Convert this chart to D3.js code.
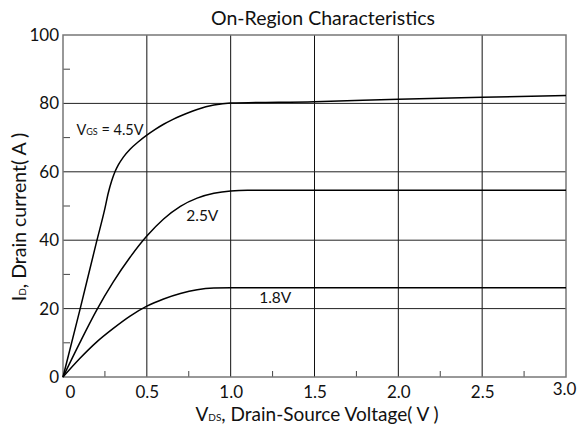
<!DOCTYPE html>
<html>
<head>
<meta charset="utf-8">
<script src="https://cdn.jsdelivr.net/npm/d3@7"></script>
<style>
  body { margin: 0; background: #fff; }
  text { font-family: Lato, "Open Sans", sans-serif; fill: #111; }
</style>
</head>
<body>
<div id="chart"></div>
<script>
// ------- Data -------
const xTicks = [0, 0.5, 1.0, 1.5, 2.0, 2.5, 3.0];
const xMinor = [0.25, 0.75, 1.25, 1.75, 2.25, 2.75];
const yTicks = [0, 20, 40, 60, 80, 100];
const yMinor = [10, 30, 50, 70, 90];

// V_DS (V), I_D (A)
const vgs45 = [
  [0, 0], [0.1, 19.5], [0.2, 39.5], [0.25, 49.3], [0.27, 53.8], [0.29, 57.3],
  [0.31, 60.0], [0.33, 62.0], [0.36, 64.3], [0.4, 66.6], [0.45, 68.8], [0.5, 70.7],
  [0.55, 72.4], [0.6, 73.9], [0.65, 75.2], [0.7, 76.3], [0.8, 78.2], [0.9, 79.5],
  [1.0, 80.1], [1.5, 80.5], [2.0, 81.2], [2.5, 81.8], [3.0, 82.3]
];
const vgs25 = [
  [0, 0], [0.1, 10], [0.2, 19.5], [0.3, 27.8], [0.4, 35.0], [0.5, 41.2],
  [0.6, 46.2], [0.7, 49.9], [0.8, 52.3], [0.9, 53.7], [1.0, 54.4], [1.1, 54.6],
  [2.0, 54.6], [3.0, 54.6]
];
const vgs18 = [
  [0, 0], [0.1, 5.4], [0.2, 10.2], [0.3, 14.2], [0.4, 17.8], [0.5, 20.7],
  [0.6, 22.8], [0.7, 24.4], [0.8, 25.5], [0.9, 26.0], [1.0, 26.1], [2.0, 26.1], [3.0, 26.1]
];
const series = [vgs45, vgs25, vgs18];

// curve labels: [V, I] where the text starts
const labelPos = [[0.08, 70.8], [0.735, 45.7], [1.17, 21.6]];
const labelText = ["4.5V", "2.5V", "1.8V"];

// ------- Chart Setup -------
const margin = { top: 35, right: 13, bottom: 53, left: 63 };
const width = 579 - margin.left - margin.right;
const height = 430 - margin.top - margin.bottom;

const root = d3.select("#chart")
  .append("svg")
  .attr("width", 579)
  .attr("height", 430);

const svg = root.append("g")
  .attr("transform", `translate(${margin.left},${margin.top})`);

const x = d3.scaleLinear().domain([0, 3]).range([0, width]);
const y = d3.scaleLinear().domain([0, 100]).range([height, 0]);

// ------- Grid -------
svg.append("g")
  .selectAll("line")
  .data(xTicks.slice(1, -1))
  .enter()
  .append("line")
  .attr("x1", d => x(d)).attr("x2", d => x(d))
  .attr("y1", 0).attr("y2", height)
  .attr("stroke", "#111")
  .attr("stroke-width", 1);

svg.append("g")
  .selectAll("line")
  .data(yTicks.slice(1, -1))
  .enter()
  .append("line")
  .attr("x1", 0).attr("x2", width)
  .attr("y1", d => y(d)).attr("y2", d => y(d))
  .attr("stroke", "#222")
  .attr("stroke-width", 1);

// minor ticks, pointing inward
svg.append("g")
  .selectAll("line")
  .data(yMinor)
  .enter()
  .append("line")
  .attr("x1", 0).attr("x2", 7)
  .attr("y1", d => y(d)).attr("y2", d => y(d))
  .attr("stroke", "#444");

svg.append("g")
  .selectAll("line")
  .data(xMinor)
  .enter()
  .append("line")
  .attr("x1", d => x(d)).attr("x2", d => x(d))
  .attr("y1", height).attr("y2", height - 6)
  .attr("stroke", "#444");

// frame
svg.append("rect")
  .attr("width", width)
  .attr("height", height)
  .attr("fill", "none")
  .attr("stroke", "#777")
  .attr("stroke-width", 1.5);

// ------- Axes (labels only) -------
const xAxis = svg.append("g")
  .attr("transform", `translate(0,${height})`)
  .call(d3.axisBottom(x).tickValues(xTicks).tickSize(0).tickPadding(9)
    .tickFormat(d => d === 0 ? "0" : d3.format(".1f")(d)));
xAxis.select(".domain").remove();
xAxis.selectAll("text")
  .style("font-size", "17px")
  .attr("font-family", null)
  .attr("dx", d => d === 0 ? 7 : (d === 3 ? -2 : 0))
  .attr("dy", d => d === 3 ? "0.55em" : "0.71em");

const yAxis = svg.append("g")
  .call(d3.axisLeft(y).tickValues(yTicks).tickSize(0).tickPadding(4));
yAxis.select(".domain").remove();
yAxis.selectAll("text")
  .style("font-size", "17px")
  .attr("font-family", null);

// ------- Curves -------
const line = d3.line()
  .x(d => x(d[0]))
  .y(d => y(d[1]))
  .curve(d3.curveMonotoneX);

svg.append("g")
  .selectAll("path")
  .data(series)
  .enter()
  .append("path")
  .attr("d", line)
  .attr("fill", "none")
  .attr("stroke", "#000")
  .attr("stroke-width", 1.5);

// ------- Curve labels -------
labelPos.forEach((p, i) => {
  const t = svg.append("text")
    .attr("x", x(p[0]))
    .attr("y", y(p[1]))
    .style("font-size", i === 0 ? "14.5px" : "15.5px");
  if (i === 0) {
    t.append("tspan").text("V");
    t.append("tspan").text("GS").style("font-size", "9px");
    t.append("tspan").text(" = " + labelText[i]);
  } else {
    t.text(labelText[i]);
  }
});

// ------- Title & axis labels -------
root.append("text")
  .attr("x", 323)
  .attr("y", 25)
  .attr("text-anchor", "middle")
  .style("font-size", "19.5px")
  .text("On-Region Characteristics");

const xl = root.append("text")
  .attr("x", 317)
  .attr("y", 421)
  .attr("text-anchor", "middle")
  .style("font-size", "19px");
xl.append("tspan").text("V");
xl.append("tspan").text("DS").style("font-size", "10px");
xl.append("tspan").text(", Drain-Source Voltage( V )");

const yl = root.append("text")
  .attr("transform", "translate(26,217) rotate(-90)")
  .attr("text-anchor", "middle")
  .style("font-size", "19.5px");
yl.append("tspan").text("I");
yl.append("tspan").text("D").style("font-size", "10px");
yl.append("tspan").text(", Drain current( A )");
</script>
</body>
</html>
